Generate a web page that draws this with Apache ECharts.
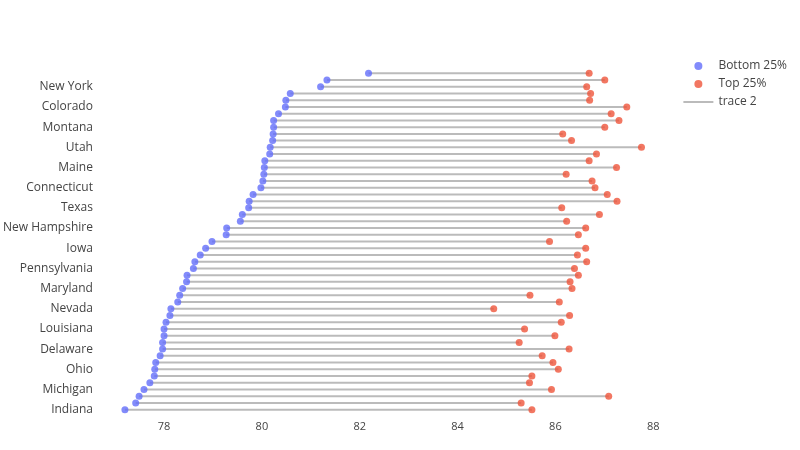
<!DOCTYPE html>
<html>
<head>
<meta charset="utf-8">
<script src="https://cdn.jsdelivr.net/npm/echarts@6/dist/echarts.min.js"></script>
<style>html,body{margin:0;padding:0;background:#fff}#main{width:800px;height:450px}</style>
</head>
<body>
<div id="main"></div>
<script>
// bottom to top
var states = ['Indiana', 'Alabama', 'Alaska', 'Michigan', 'Arizona', 'Arkansas', 'Ohio', 'California', 'District of Columbia',
    'Delaware', 'Florida', 'Georgia', 'Louisiana', 'Hawaii', 'Idaho', 'Nevada', 'Illinois', 'Kansas',
    'Maryland', 'Kentucky', 'Massachusetts', 'Pennsylvania', 'Minnesota', 'Mississippi', 'Iowa', 'Missouri', 'Nebraska',
    'New Hampshire', 'New Jersey', 'New Mexico', 'Texas', 'North Carolina', 'North Dakota', 'Connecticut', 'Oklahoma', 'Oregon',
    'Maine', 'Rhode Island', 'South Carolina', 'Utah', 'South Dakota', 'Tennessee', 'Montana', 'Vermont', 'Virginia',
    'Colorado', 'Washington', 'West Virginia', 'New York', 'Wisconsin', 'Wyoming'];

var bottom25 = [77.20, 77.42, 77.49, 77.59, 77.71, 77.80, 77.81, 77.83, 77.92, 77.97, 77.97, 78.00, 78.00,
    78.04, 78.12, 78.14, 78.28, 78.32, 78.38, 78.46, 78.47, 78.60, 78.63, 78.74, 78.85, 78.98,
    79.27, 79.28, 79.56, 79.60, 79.73, 79.74, 79.82, 79.98, 80.02, 80.04, 80.05, 80.06, 80.16,
    80.17, 80.22, 80.23, 80.24, 80.24, 80.34, 80.48, 80.49, 80.58, 81.20, 81.33, 82.18];

var top25 = [85.52, 85.30, 87.09, 85.92, 85.47, 85.52, 86.06, 85.95, 85.73, 86.28, 85.26, 85.99, 85.37,
    86.12, 86.29, 84.74, 86.08, 85.48, 86.34, 86.30, 86.47, 86.39, 86.64, 86.45, 86.62, 85.88,
    86.47, 86.62, 86.23, 86.90, 86.13, 87.26, 87.06, 86.81, 86.75, 86.22, 87.25, 86.69, 86.84,
    87.76, 86.33, 86.15, 87.01, 87.30, 87.14, 87.46, 86.70, 86.72, 86.64, 87.01, 86.69];

var myChart = echarts.init(document.getElementById('main'));

var option = {
    animation: false,
    textStyle: {fontFamily: 'Open Sans, sans-serif'},
    legend: {
        orient: 'vertical',
        right: 8,
        top: 55,
        itemGap: 6,
        itemWidth: 30,
        itemHeight: 8,
        textStyle: {color: '#444', fontSize: 12},
        data: [
            {name: 'Bottom 25%', icon: 'circle'},
            {name: 'Top 25%', icon: 'circle'},
            {name: 'trace 2', icon: 'path://M0,0h30v2h-30z'}
        ]
    },
    grid: {left: 101, right: 137, top: 70, bottom: 37},
    xAxis: {
        type: 'value',
        min: 76.75,
        max: 88.2,
        interval: 2,
        axisLabel: {
            color: '#444', fontSize: 11,
            customValues: [78, 80, 82, 84, 86, 88]
        },
        axisTick: {show: false},
        axisLine: {show: false},
        splitLine: {show: false}
    },
    yAxis: {
        type: 'category',
        data: states,
        axisLabel: {color: '#444', fontSize: 12, interval: 2, margin: 10},
        axisTick: {show: false},
        axisLine: {show: false}
    },
    series: [
        {
            name: 'trace 2',
            type: 'custom',
            itemStyle: {color: '#bbbbbb'},
            data: states.map(function (s, i) { return [bottom25[i], top25[i], i]; }),
            renderItem: function (params, api) {
                var a = api.coord([api.value(0), api.value(2)]);
                var b = api.coord([api.value(1), api.value(2)]);
                return {
                    type: 'line',
                    shape: {x1: a[0], y1: a[1], x2: b[0], y2: b[1]},
                    style: {stroke: '#bbbbbb', lineWidth: 2}
                };
            },
            encode: {x: [0, 1], y: 2},
            z: 1
        },
        {
            name: 'Bottom 25%',
            type: 'scatter',
            symbolSize: 7,
            itemStyle: {color: '#636efa'},
            data: states.map(function (s, i) { return [bottom25[i], i]; }),
            z: 3
        },
        {
            name: 'Top 25%',
            type: 'scatter',
            symbolSize: 7,
            itemStyle: {color: '#ef553b'},
            data: states.map(function (s, i) { return [top25[i], i]; }),
            z: 3
        }
    ]
};

myChart.setOption(option);
</script>
</body>
</html>
